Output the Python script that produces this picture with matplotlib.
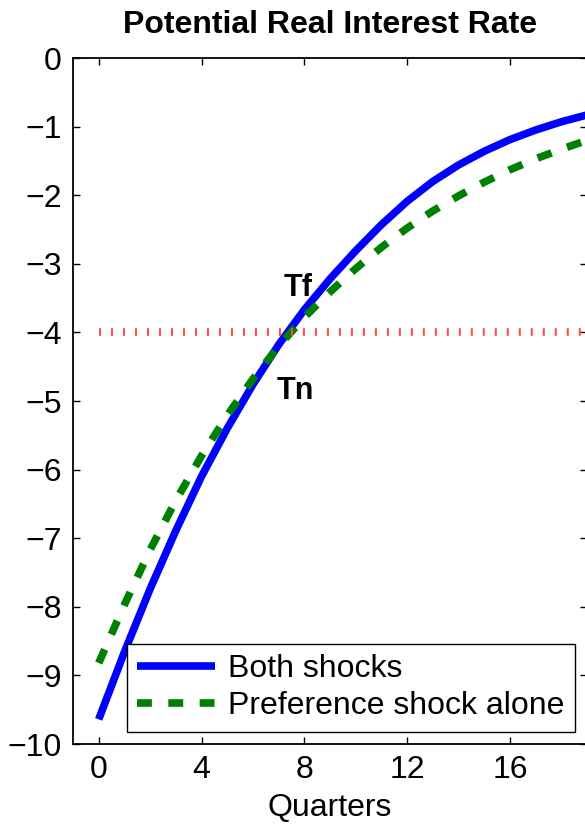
import numpy as np
import matplotlib
matplotlib.use('Agg')
import matplotlib.pyplot as plt

# 분기별 잠재 실질금리
quarters = list(range(20))
both_shocks = [-9.64, -8.66, -7.74, -6.89, -6.10, -5.40, -4.76, -4.18, -3.67, -3.22,
               -2.81, -2.43, -2.09, -1.80, -1.56, -1.36, -1.19, -1.05, -0.93, -0.83]
pref_alone = [-8.82, -7.97, -7.17, -6.45, -5.80, -5.21, -4.68, -4.20, -3.78, -3.41,
              -3.07, -2.76, -2.48, -2.23, -2.01, -1.81, -1.63, -1.47, -1.33, -1.20]
zlb_level = -4
xticks = [0, 4, 8, 12, 16]
yticks = list(range(-10, 1))

plt.rcParams['font.family'] = ['Liberation Sans', 'DejaVu Sans']

fig = plt.figure(figsize=(5.85, 8.25), dpi=100)
# 오른쪽 테두리는 그림 밖으로 살짝 잘림
ax = fig.add_axes([73/585, 81/825, 514/585, 686/825])

lw = 5.5
ax.plot(quarters, both_shocks, color='#0000ff', lw=lw, solid_capstyle='butt', label='Both shocks')
ax.plot(quarters, pref_alone, color='#008000', lw=lw, dashes=(1.95, 2.15), dash_capstyle='butt',
        label='Preference shock alone')
ax.plot([quarters[0], quarters[-1]], [zlb_level, zlb_level], color='#ff4d4d', lw=lw,
        dashes=(0.27, 1.3), dash_capstyle='butt')

ax.text(7.75, -3.35, 'Tf', fontsize=22, fontweight='bold', ha='center', va='center')
ax.text(7.65, -4.85, 'Tn', fontsize=22, fontweight='bold', ha='center', va='center')

ax.set_xlim(-1, 19)
ax.set_ylim(-10, 0)
ax.set_xticks(xticks)
ax.set_yticks(yticks)
ax.tick_params(direction='in', length=5, width=1, top=True, right=True, labelsize=23, pad=8)
for s in ax.spines.values():
    s.set_linewidth(1.3)

ax.set_title('Potential Real Interest Rate', fontsize=23, fontweight='bold', pad=18)
ax.set_xlabel('Quarters', fontsize=23, labelpad=6)

leg = ax.legend(loc='lower left', bbox_to_anchor=(0.105, 0.018), borderaxespad=0,
                fontsize=23, handlelength=2.45, handletextpad=0.4, labelspacing=0.22,
                borderpad=0.32, fancybox=False, framealpha=1, edgecolor='black')
leg.get_frame().set_linewidth(1.0)

fig.savefig('out.png', dpi=100)
